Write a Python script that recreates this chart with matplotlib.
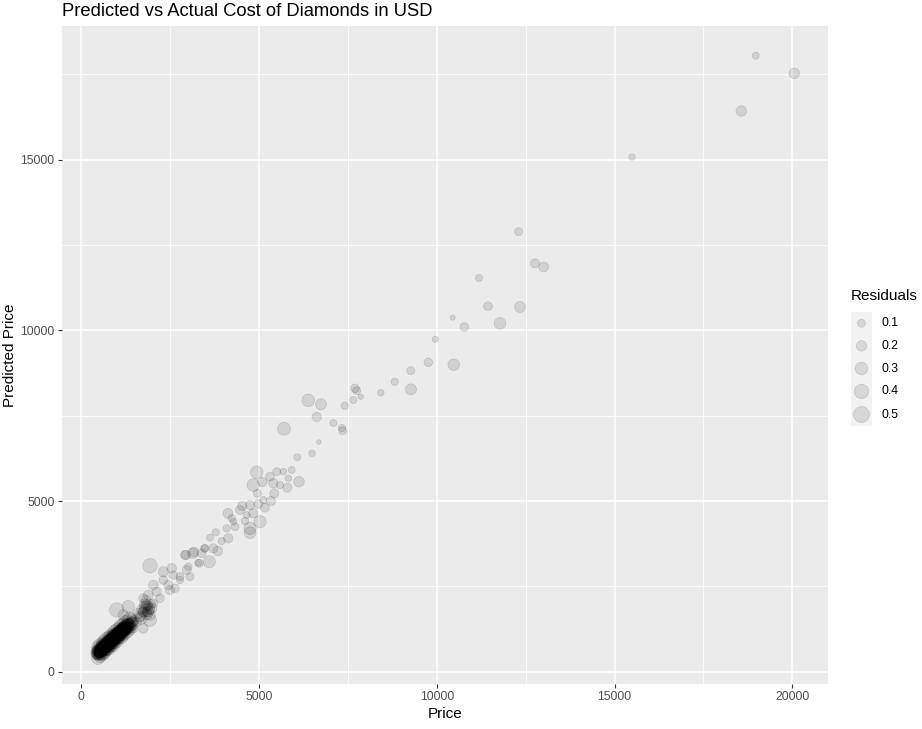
import matplotlib
matplotlib.use("Agg")
import matplotlib.pyplot as plt
from matplotlib.patches import Rectangle
import numpy as np

plt.rcParams['font.family'] = ['Liberation Sans', 'DejaVu Sans']

# ---- data ----
sparse_price = [18971, 20057, 18566, 15491, 12304, 12763, 13007, 11187, 11440, 12340,
                10448, 10774, 11778, 9958, 9761, 10476, 9266, 8816, 9274, 8422,
                7699, 7747, 7860, 7651, 7409, 6386, 6743, 6622, 7089, 7353,
                7334, 5702, 6678, 6490, 6076,
                4934, 4838, 5092, 5497, 5682, 5918, 6124, 5401, 5590, 5795,
                5308, 5823, 5429, 4951, 5336, 5120, 5167, 4979, 4746, 4529,
                4464, 4653, 4838, 4127, 4231, 4276, 5027, 4746, 4746, 4605,
                4090, 4324, 3781, 4135, 3620, 3949, 3713, 3837, 3460, 3134,
                3170, 2917, 3601, 3291, 3010,
                1932, 2307, 2543, 2588, 2776, 3058, 2965, 2945, 3387, 3319,
                3480, 2307, 2447, 2636, 2776, 2025, 2121, 1885, 1744, 2495,
                2214, 2025, 1840, 1876, 1980, 1932, 1932, 1932, 1744, 1651,
                1558, 996, 1322, 1181, 1418, 1744, 1463, 1820, 1792, 1961, 1848]
sparse_pred = [18043, 17527, 16423, 15079, 12888, 11962, 11854, 11532, 10703, 10682,
               10369, 10097, 10205, 9736, 9062, 8992, 8816, 8494, 8271, 8172,
               8301, 8230, 8055, 7958, 7791, 7949, 7832, 7460, 7284, 7059,
               7138, 7117, 6728, 6397, 6280,
               5840, 5468, 5556, 5858, 5858, 5908, 5565, 5518, 5468, 5389,
               5712, 5665, 5225, 5225, 5000, 5029, 4804, 4912, 4883, 4853,
               4736, 4590, 4640, 4640, 4493, 4394, 4394, 4200, 4071, 4414,
               4200, 4247, 4083, 3907, 3925, 3828, 3614, 3535, 3614, 3468,
               3506, 3418, 3222, 3193, 3076,
               3105, 2929, 3029, 2832, 2783, 2783, 2979, 3418, 3468, 3175,
               3614, 2686, 2539, 2443, 2686, 2539, 2343, 2247, 2150, 2393,
               2150, 2003, 1954, 1924, 1857, 1807, 1661, 1514, 1757, 1611,
               1465, 1807, 1904, 1661, 1564, 1271, 1271, 2100, 1866, 1983, 1749]
sparse_resid = [0.07, 0.20, 0.20, 0.06, 0.10, 0.14, 0.17, 0.07, 0.13, 0.22,
                0.02, 0.12, 0.25, 0.05, 0.12, 0.25, 0.10, 0.08, 0.22, 0.06,
                0.12, 0.10, 0.03, 0.07, 0.08, 0.30, 0.22, 0.15, 0.07, 0.10,
                0.08, 0.32, 0.01, 0.06, 0.07,
                0.30, 0.30, 0.15, 0.10, 0.06, 0.07, 0.20, 0.15, 0.08, 0.14,
                0.13, 0.06, 0.14, 0.10, 0.14, 0.07, 0.13, 0.13, 0.14, 0.15,
                0.14, 0.07, 0.15, 0.17, 0.08, 0.06, 0.28, 0.28, 0.26, 0.08,
                0.08, 0.10, 0.08, 0.15, 0.07, 0.08, 0.14, 0.16, 0.08, 0.20,
                0.16, 0.14, 0.28, 0.07, 0.08,
                0.40, 0.18, 0.16, 0.12, 0.10, 0.10, 0.14, 0.14, 0.12, 0.10,
                0.10, 0.12, 0.14, 0.12, 0.08, 0.16, 0.14, 0.16, 0.14, 0.14,
                0.12, 0.14, 0.20, 0.18, 0.20, 0.16, 0.20, 0.32, 0.16, 0.14,
                0.14, 0.40, 0.30, 0.20, 0.16, 0.16, 0.14, 0.16, 0.14, 0.14, 0.14]

cluster_price = [431, 448, 455, 462, 470, 476, 483, 490, 497, 505,
                 511, 518, 524, 530, 537, 544, 550, 556, 563, 570,
                 576, 583, 590, 596, 603, 610, 616, 622, 629, 636,
                 642, 648, 655, 661, 668, 674, 681, 688, 694, 700,
                 707, 713, 720, 726, 733, 740, 746, 752, 759, 766,
                 772, 778, 785, 791, 798, 805, 811, 817, 824, 831,
                 837, 843, 850, 856, 863, 870, 876, 882, 889, 896,
                 902, 908, 915, 921, 928, 935, 941, 947, 954, 961,
                 967, 973, 980, 986, 993, 1000, 1006, 1012, 1019, 1026,
                 1032, 1038, 1045, 1051, 1058, 1065, 1071, 1077, 1084, 1091,
                 1097, 1104, 1110, 1117, 1124, 1131, 1138, 1145, 1152, 1160,
                 1168, 1176, 1184, 1192, 1200, 1209, 1218, 1227, 1236, 1245,
                 1255, 1265, 1275, 1286, 1297, 1309, 1321, 1334, 1348, 1362,
                 1377, 1393, 1410, 1428, 1447, 1467, 590, 720, 860, 1005,
                 540, 610, 680, 750, 820, 890, 960, 1030, 1100, 1170,
                 575, 645, 715, 785, 855, 925, 995, 1065, 1135, 1205,
                 460, 520, 580, 640, 700, 760, 820, 880, 940, 1000,
                 1060, 1120, 1180, 1240, 1300, 1360,
                 470, 530, 590, 650, 710, 770, 830, 890, 950, 1010,
                 1070, 1130, 1190, 1250, 1310, 1380,
                 1600, 1650, 1700, 1750, 1800, 1850, 1900, 1780, 1690, 1880,
                 480, 530, 585, 625, 665, 705, 745, 790, 830, 870,
                 910, 950, 990, 1030, 1070, 1110, 1150, 1190, 1230, 1270,
                 500, 560, 615, 660, 700, 740, 780, 825, 865, 905,
                 945, 985, 1025, 1065, 1105, 1145, 1185, 1225, 1265, 1320]
cluster_pred = [512, 575, 498, 620, 545, 488, 603, 660, 530, 582,
                640, 515, 702, 587, 548, 668, 610, 725, 560, 640,
                690, 598, 742, 655, 612, 770, 700, 640, 735, 668,
                795, 720, 650, 760, 828, 690, 745, 810, 705, 850,
                772, 730, 880, 805, 750, 845, 905, 780, 838, 740,
                870, 930, 815, 792, 895, 958, 848, 910, 786, 975,
                880, 935, 838, 1002, 905, 962, 872, 1020, 940, 855,
                990, 1045, 925, 968, 1060, 1010, 900, 1075, 985, 1032,
                950, 1098, 1040, 975, 1110, 1065, 1005, 1130, 1080, 1020,
                1150, 1095, 1045, 1168, 1120, 1060, 1185, 1140, 1098, 1205,
                1150, 1090, 1225, 1170, 1118, 1240, 1185, 1135, 1262, 1205,
                1150, 1280, 1225, 1178, 1300, 1245, 1195, 1320, 1268, 1210,
                1340, 1290, 1235, 1365, 1310, 1262, 1390, 1335, 1285, 1415,
                1360, 1440, 1385, 1465, 1420, 1490, 560, 690, 830, 985,
                600, 660, 735, 810, 880, 950, 1015, 1090, 1160, 1230,
                640, 705, 775, 845, 915, 985, 1055, 1120, 1190, 1255,
                720, 780, 835, 890, 950, 1005, 1060, 1120, 1175, 1235,
                1290, 1345, 1405, 1460, 1520, 1575,
                395, 440, 510, 555, 625, 670, 740, 785, 850, 900,
                965, 1012, 1080, 1125, 1195, 1250,
                1700, 1620, 1820, 1750, 1900, 1680, 1850, 1980, 1560, 1760,
                590, 600, 690, 700, 760, 770, 835, 850, 920, 930,
                990, 1005, 1070, 1080, 1145, 1160, 1220, 1235, 1300, 1310,
                575, 630, 715, 730, 790, 805, 840, 910, 925, 985,
                1000, 1065, 1075, 1140, 1150, 1215, 1230, 1290, 1300, 1380]
cluster_resid = [0.22, 0.31, 0.18, 0.27, 0.35, 0.20, 0.25, 0.30, 0.16, 0.28,
                 0.24, 0.33, 0.19, 0.26, 0.30, 0.21, 0.36, 0.23, 0.28, 0.17,
                 0.29, 0.20, 0.34, 0.25, 0.22, 0.31, 0.18, 0.27, 0.24, 0.38,
                 0.20, 0.26, 0.32, 0.23, 0.29, 0.19, 0.35, 0.25, 0.28, 0.21,
                 0.33, 0.24, 0.27, 0.20, 0.37, 0.26, 0.22, 0.30, 0.18, 0.29,
                 0.25, 0.21, 0.34, 0.28, 0.23, 0.30, 0.19, 0.36, 0.27, 0.22,
                 0.30, 0.26, 0.20, 0.33, 0.24, 0.28, 0.35, 0.21, 0.29, 0.25,
                 0.19, 0.31, 0.27, 0.23, 0.34, 0.26, 0.20, 0.29, 0.32, 0.24,
                 0.28, 0.22, 0.36, 0.25, 0.30, 0.19, 0.33, 0.27, 0.23, 0.31,
                 0.26, 0.34, 0.21, 0.29, 0.24, 0.37, 0.20, 0.28, 0.32, 0.25,
                 0.23, 0.30, 0.27, 0.19, 0.35, 0.26, 0.31, 0.22, 0.28, 0.33,
                 0.29, 0.24, 0.32, 0.20, 0.27, 0.36, 0.23, 0.30, 0.25, 0.21,
                 0.34, 0.26, 0.22, 0.30, 0.28, 0.19, 0.25, 0.33, 0.24, 0.20,
                 0.27, 0.22, 0.31, 0.18, 0.25, 0.20, 0.42, 0.38, 0.33, 0.30,
                 0.26, 0.29, 0.24, 0.32, 0.27, 0.30, 0.25, 0.28, 0.23, 0.26,
                 0.30, 0.25, 0.28, 0.24, 0.31, 0.27, 0.22, 0.29, 0.26, 0.24,
                 0.28, 0.32, 0.26, 0.30, 0.35, 0.27, 0.31, 0.25, 0.33, 0.29,
                 0.26, 0.34, 0.28, 0.30, 0.24, 0.27,
                 0.30, 0.26, 0.33, 0.28, 0.25, 0.32, 0.29, 0.35, 0.27, 0.30,
                 0.24, 0.31, 0.28, 0.26, 0.30, 0.25,
                 0.20, 0.24, 0.18, 0.22, 0.26, 0.20, 0.23, 0.19, 0.25, 0.21,
                 0.27, 0.31, 0.26, 0.29, 0.32, 0.28, 0.25, 0.30, 0.27, 0.31,
                 0.29, 0.26, 0.32, 0.28, 0.25, 0.30, 0.27, 0.31, 0.26, 0.29,
                 0.30, 0.27, 0.25, 0.32, 0.28, 0.26, 0.31, 0.29, 0.27, 0.30,
                 0.26, 0.32, 0.28, 0.25, 0.30, 0.27, 0.29, 0.31, 0.26, 0.28]

legend_breaks = [0.1, 0.2, 0.3, 0.4, 0.5]
x_ticks = [0, 5000, 10000, 15000, 20000]
y_ticks = [0, 5000, 10000, 15000]
x_minor = [2500, 7500, 12500, 17500]
y_minor = [2500, 7500, 12500, 17500]

# ---- helpers ----
def size_of(r):
    # area-proportional size: diameter (px) ~ sqrt(16 + 480 r); px -> pt at 100 dpi
    r = np.asarray(r, dtype=float)
    d_px = np.sqrt(16 + 480 * r)
    return (d_px * 0.72) ** 2

W, H = 922, 729
fig = plt.figure(figsize=(W / 100, H / 100), dpi=100)
fig.patch.set_facecolor('white')

left, right, top, bottom = 61.5, 828.3, 26, 684
ax = fig.add_axes([left / W, 1 - bottom / H, (right - left) / W, (bottom - top) / H])
ax.set_facecolor('#EBEBEB')
for s in ax.spines.values():
    s.set_visible(False)
ax.set_xlim(-557, 21013)
ax.set_ylim(-360, 18913)

ax.set_xticks(x_ticks)
ax.set_yticks(y_ticks)
ax.set_xticks(x_minor, minor=True)
ax.set_yticks(y_minor, minor=True)
ax.grid(which='major', color='white', linewidth=1.2)
ax.grid(which='minor', color='white', linewidth=0.6)
ax.set_axisbelow(True)
ax.tick_params(which='major', length=2.75, width=0.8, color='#333333',
               labelsize=8.8, labelcolor='#4D4D4D', pad=2.2)
ax.tick_params(which='minor', length=0)
ax.set_xticklabels([str(v) for v in x_ticks])
ax.set_yticklabels([str(v) for v in y_ticks])

fc = (0, 0, 0, 0.11)
ec = (0, 0, 0, 0.14)
all_price = cluster_price + sparse_price
all_pred = cluster_pred + sparse_pred
all_resid = cluster_resid + sparse_resid
ax.scatter(all_price, all_pred, s=size_of(all_resid), facecolors=fc,
           edgecolors=ec, linewidths=0.5, zorder=3)

ax.set_xlabel('Price', fontsize=11, color='black', labelpad=2.75)
ax.set_ylabel('Predicted Price', fontsize=11, color='black', labelpad=2.75)

fig.text(left / W, 1 - 12 / H, 'Predicted vs Actual Cost of Diamonds in USD',
         fontsize=13.2, ha='left', va='center', color='black')

# ---- legend (pixel overlay) ----
lax = fig.add_axes([0, 0, 1, 1], zorder=5)
lax.set_xlim(0, W)
lax.set_ylim(H, 0)
lax.axis('off')
lax.patch.set_alpha(0)
lax.text(851, 296, 'Residuals', fontsize=11, ha='left', va='center', color='black')
key_y = [323.3, 345.9, 368.5, 391.4, 414.5]
key_h = [22.6, 22.6, 22.6, 23.0, 23.4]
for yc, hh, b in zip(key_y, key_h, legend_breaks):
    lax.add_patch(Rectangle((851, yc - hh / 2), 21, hh, facecolor='#F2F2F2',
                            edgecolor='none'))
    lax.text(881, yc, f'{b:.1f}', fontsize=8.8, ha='left', va='center', color='black')
lax.scatter([861.5] * len(legend_breaks), key_y, s=size_of(legend_breaks),
            facecolors=fc, edgecolors=ec, linewidths=0.5, zorder=3)

fig.savefig('out.png', dpi=100)
